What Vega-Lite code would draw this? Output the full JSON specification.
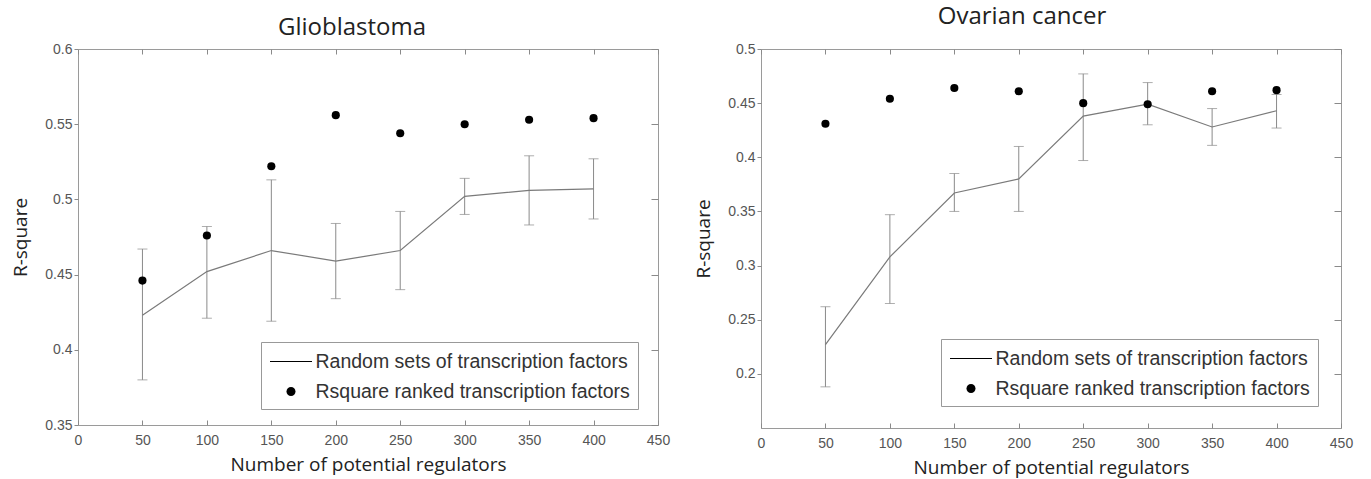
{
  "$schema": "https://vega.github.io/schema/vega-lite/v6.json",
  "padding": {"left": 11, "top": 4, "right": 5, "bottom": 2},
  "background": "white",
  "spacing": 23,
  "config": {
    "view": {"stroke": "#9a9a9a", "strokeWidth": 1},
    "title": {"font": "Open Sans", "fontSize": 24, "fontWeight": "normal", "color": "#222222"},
    "axis": {
      "grid": false, "domain": false,
      "labelFont": "Liberation Sans", "labelFontSize": 14, "labelColor": "#555555",
      "tickColor": "#8a8a8a",
      "titleFont": "Open Sans", "titleFontSize": 19, "titleFontWeight": "normal", "titleColor": "#222222"
    }
  },
  "datasets": {
    "glio": [
      {"n": 50, "mean": 0.423, "lo": 0.380, "hi": 0.467, "ranked": 0.446},
      {"n": 100, "mean": 0.452, "lo": 0.421, "hi": 0.482, "ranked": 0.476},
      {"n": 150, "mean": 0.466, "lo": 0.419, "hi": 0.513, "ranked": 0.522},
      {"n": 200, "mean": 0.459, "lo": 0.434, "hi": 0.484, "ranked": 0.556},
      {"n": 250, "mean": 0.466, "lo": 0.440, "hi": 0.492, "ranked": 0.544},
      {"n": 300, "mean": 0.502, "lo": 0.490, "hi": 0.514, "ranked": 0.550},
      {"n": 350, "mean": 0.506, "lo": 0.483, "hi": 0.529, "ranked": 0.553},
      {"n": 400, "mean": 0.507, "lo": 0.487, "hi": 0.527, "ranked": 0.554}
    ],
    "ovar": [
      {"n": 50, "mean": 0.227, "lo": 0.188, "hi": 0.262, "ranked": 0.431},
      {"n": 100, "mean": 0.308, "lo": 0.265, "hi": 0.347, "ranked": 0.454},
      {"n": 150, "mean": 0.367, "lo": 0.350, "hi": 0.385, "ranked": 0.464},
      {"n": 200, "mean": 0.380, "lo": 0.350, "hi": 0.410, "ranked": 0.461},
      {"n": 250, "mean": 0.438, "lo": 0.397, "hi": 0.477, "ranked": 0.450},
      {"n": 300, "mean": 0.449, "lo": 0.430, "hi": 0.469, "ranked": 0.449},
      {"n": 350, "mean": 0.428, "lo": 0.411, "hi": 0.445, "ranked": 0.461},
      {"n": 400, "mean": 0.443, "lo": 0.427, "hi": 0.458, "ranked": 0.462}
    ]
  },
  "resolve": {"scale": {"shape": "independent"}, "legend": {"shape": "independent"}},
  "hconcat": [
    {
      "width": 580,
      "height": 376,
      "data": {"name": "glio"},
      "title": {"text": "Glioblastoma", "offset": -17, "baseline": "alphabetic", "dx": -16},
      "layer": [
        {
          "mark": {"type": "errorbar", "ticks": {"size": 10, "color": "#8a8a8a", "thickness": 1}, "rule": {"color": "#8a8a8a", "strokeWidth": 1}},
          "encoding": {
            "x": {"field": "n", "type": "quantitative", "scale": {"domain": [0, 450], "nice": false},
                  "axis": {"orient": "bottom", "title": "Number of potential regulators", "values": [0, 50, 100, 150, 200, 250, 300, 350, 400, 450], "tickSize": -5, "labelPadding": 13, "titlePadding": 8, "labelFlush": false, "labelOverlap": false}},
            "y": {"field": "lo", "type": "quantitative", "scale": {"domain": [0.35, 0.6], "nice": false, "zero": false},
                  "axis": {"orient": "left", "title": "R-square", "values": [0.35, 0.4, 0.45, 0.5, 0.55, 0.6], "format": "~g", "tickSize": 4, "labelPadding": 2, "titlePadding": 14}},
            "y2": {"field": "hi"}
          }
        },
        {
          "mark": {"type": "line", "color": "#7a7a7a", "strokeWidth": 1.2},
          "encoding": {
            "x": {"field": "n", "type": "quantitative", "axis": {"orient": "top", "title": null, "labels": false, "values": [0, 50, 100, 150, 200, 250, 300, 350, 400, 450], "tickSize": -5, "minExtent": 0, "maxExtent": 0}},
            "y": {"field": "mean", "type": "quantitative", "axis": {"orient": "right", "title": null, "labels": false, "values": [0.35, 0.4, 0.45, 0.5, 0.55, 0.6], "tickSize": -7, "minExtent": 0, "maxExtent": 0}}
          }
        },
        {
          "mark": {"type": "point", "filled": true, "color": "black", "size": 66, "opacity": 1, "shape": "circle"},
          "encoding": {
            "x": {"field": "n", "type": "quantitative", "axis": null},
            "y": {"field": "ranked", "type": "quantitative", "axis": null}
          }
        },
        {
          "transform": [{"filter": "datum.n < 0"}],
          "mark": {"type": "point", "filled": true, "color": "black", "size": 441, "opacity": 1},
          "encoding": {
            "x": {"field": "n", "type": "quantitative", "axis": null},
            "y": {"field": "ranked", "type": "quantitative", "axis": null},
            "shape": {
              "datum": "Rsquare ranked transcription factors", "type": "nominal",
              "scale": {"domain": ["Random sets of transcription factors", "Rsquare ranked transcription factors"], "range": ["M-2,-0.05H2V0.05H-2Z", "M-0.43,0A0.43,0.43 0 1,0 0.43,0A0.43,0.43 0 1,0 -0.43,0Z"]},
              "legend": {
                "title": null, "orient": "none", "legendX": 183, "legendY": 293,
                "fillColor": "white", "strokeColor": "#999999", "padding": 8,
                "symbolSize": 441, "symbolOffset": 10.5, "labelOffset": 13, "rowPadding": 9,
                "labelFont": "Liberation Sans", "labelFontSize": 19.5, "labelColor": "#333333", "labelLimit": 500,
                "encode": {"symbols": {
                  "fill": {"value": {"expr": "datum.index === 0 ? '#707070' : 'black'"}},
                  "opacity": {"value": 1}
                }}
              }
            }
          }
        }
      ],
      "resolve": {"axis": {"x": "independent", "y": "independent"}}
    },
    {
      "width": 580,
      "height": 379,
      "data": {"name": "ovar"},
      "title": {"text": "Ovarian cancer", "offset": -6, "baseline": "alphabetic", "dx": -29},
      "layer": [
        {
          "mark": {"type": "errorbar", "ticks": {"size": 10, "color": "#8a8a8a", "thickness": 1}, "rule": {"color": "#8a8a8a", "strokeWidth": 1}},
          "encoding": {
            "x": {"field": "n", "type": "quantitative", "scale": {"domain": [0, 450], "nice": false},
                  "axis": {"orient": "bottom", "title": "Number of potential regulators", "values": [0, 50, 100, 150, 200, 250, 300, 350, 400, 450], "tickSize": -5, "labelPadding": 13, "titlePadding": 8, "labelFlush": false, "labelOverlap": false}},
            "y": {"field": "lo", "type": "quantitative", "scale": {"domain": [0.15, 0.5], "nice": false, "zero": false},
                  "axis": {"orient": "left", "title": "R-square", "values": [0.2, 0.25, 0.3, 0.35, 0.4, 0.45, 0.5], "format": "~g", "tickSize": 4, "labelPadding": 2, "titlePadding": 14}},
            "y2": {"field": "hi"}
          }
        },
        {
          "mark": {"type": "line", "color": "#7a7a7a", "strokeWidth": 1.2},
          "encoding": {
            "x": {"field": "n", "type": "quantitative", "axis": {"orient": "top", "title": null, "labels": false, "values": [0, 50, 100, 150, 200, 250, 300, 350, 400, 450], "tickSize": -5, "minExtent": 0, "maxExtent": 0}},
            "y": {"field": "mean", "type": "quantitative", "axis": {"orient": "right", "title": null, "labels": false, "values": [0.2, 0.25, 0.3, 0.35, 0.4, 0.45, 0.5], "tickSize": -7, "minExtent": 0, "maxExtent": 0}}
          }
        },
        {
          "mark": {"type": "point", "filled": true, "color": "black", "size": 66, "opacity": 1, "shape": "circle"},
          "encoding": {
            "x": {"field": "n", "type": "quantitative", "axis": null},
            "y": {"field": "ranked", "type": "quantitative", "axis": null}
          }
        },
        {
          "transform": [{"filter": "datum.n < 0"}],
          "mark": {"type": "point", "filled": true, "color": "black", "size": 441, "opacity": 1},
          "encoding": {
            "x": {"field": "n", "type": "quantitative", "axis": null},
            "y": {"field": "ranked", "type": "quantitative", "axis": null},
            "shape": {
              "datum": "Rsquare ranked transcription factors", "type": "nominal",
              "scale": {"domain": ["Random sets of transcription factors", "Rsquare ranked transcription factors"], "range": ["M-2,-0.05H2V0.05H-2Z", "M-0.43,0A0.43,0.43 0 1,0 0.43,0A0.43,0.43 0 1,0 -0.43,0Z"]},
              "legend": {
                "title": null, "orient": "none", "legendX": 180, "legendY": 290,
                "fillColor": "white", "strokeColor": "#999999", "padding": 8,
                "symbolSize": 441, "symbolOffset": 10.5, "labelOffset": 13, "rowPadding": 9,
                "labelFont": "Liberation Sans", "labelFontSize": 19.5, "labelColor": "#333333", "labelLimit": 500,
                "encode": {"symbols": {
                  "fill": {"value": {"expr": "datum.index === 0 ? '#707070' : 'black'"}},
                  "opacity": {"value": 1}
                }}
              }
            }
          }
        }
      ],
      "resolve": {"axis": {"x": "independent", "y": "independent"}}
    }
  ]
}
